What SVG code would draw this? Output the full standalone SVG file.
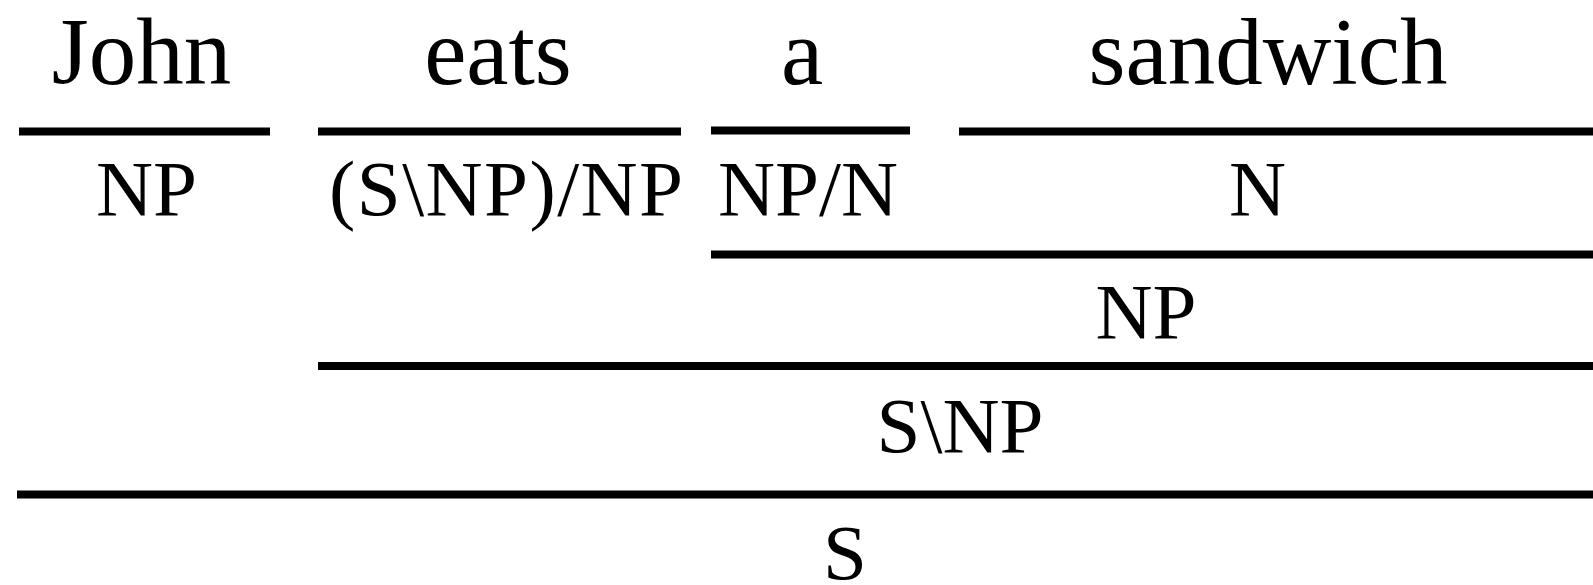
<svg xmlns="http://www.w3.org/2000/svg" width="1593" height="585" viewBox="0 0 1593 585">
<style>
  text { font-family: "Liberation Serif", "Times New Roman", serif; fill: #000; text-anchor: middle; }
  .w { font-size: 95px; }
  .c { font-size: 79px; }
  .rule { fill: #000; }
</style>
<rect width="1593" height="585" fill="#fff"/>
<g id="connectors">
  <rect class="rule" x="19" y="127.5" width="251" height="8"/>
  <rect class="rule" x="318" y="127.5" width="363" height="8"/>
  <rect class="rule" x="711" y="126.5" width="199" height="8"/>
  <rect class="rule" x="959" y="127.5" width="634" height="8"/>
  <rect class="rule" x="711" y="250.5" width="882" height="8"/>
  <rect class="rule" x="318" y="362" width="1275" height="8"/>
  <rect class="rule" x="17" y="490.5" width="1576" height="8"/>
</g>
<g id="word-john"><text class="w" x="141.5" y="84">John</text></g>
<g id="word-eats"><text class="w" x="498" y="84">eats</text></g>
<g id="word-a"><text class="w" x="802" y="84">a</text></g>
<g id="word-sandwich"><text class="w" x="1268" y="84">sandwich</text></g>
<g id="cat-john"><text class="c" x="146.5" y="215">NP</text></g>
<g id="cat-eats"><text class="c" x="506" y="215" textLength="354" lengthAdjust="spacing">(S\NP)/NP</text></g>
<g id="cat-a"><text class="c" x="808" y="215">NP/N</text></g>
<g id="cat-sandwich"><text class="c" x="1257.5" y="215">N</text></g>
<g id="cat-np"><text class="c" x="1146" y="338">NP</text></g>
<g id="cat-vp"><text class="c" x="960" y="452">S\NP</text></g>
<g id="cat-s"><text class="c" x="845" y="579">S</text></g>
</svg>
